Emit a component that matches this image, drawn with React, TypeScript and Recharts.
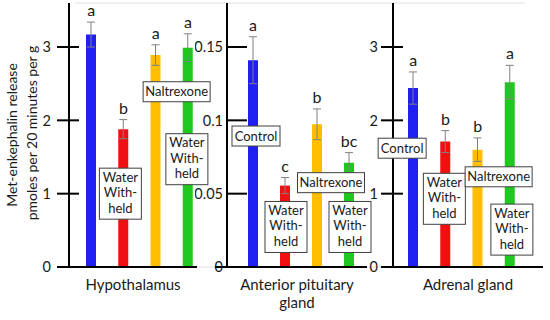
import { Bar, BarChart, CartesianGrid, Cell, ErrorBar, Label, ReferenceDot, XAxis, YAxis } from "recharts";

// treatments, in bar order
const treatments = ["Control", "Water withheld", "Naltrexone", "Water withheld + Naltrexone"];
const barColors = ["#1f1ff2", "#f01010", "#ffbf00", "#1fc81f"];

// pmoles per 20 min per g (mean, SE, significance letter)
const hypoMeans = [3.17, 1.88, 2.89, 2.99];
const hypoErrors = [0.17, 0.13, 0.14, 0.19];
const hypoLetters = ["a", "b", "a", "a"];

const pituitaryMeans = [0.141, 0.0555, 0.0973, 0.071];
const pituitaryErrors = [0.016, 0.0055, 0.0105, 0.007];
const pituitaryLetters = ["a", "c", "b", "bc"];

const adrenalMeans = [2.44, 1.71, 1.6, 2.52];
const adrenalErrors = [0.22, 0.15, 0.16, 0.23];
const adrenalLetters = ["a", "b", "b", "a"];

const wholeTicks = [0, 1, 2, 3];
const smallTicks = [0, 0.05, 0.1, 0.15];
const gridValues = [0.5, 1, 1.5, 2, 2.5, 3, 3.5];

const WATER = ["Water", "With-", "held"];
const NALT = ["Naltrexone"];
const CTRL = ["Control"];

const FONT = "Lato, 'Liberation Sans', sans-serif";

type Note = { at: number; value: number; dx: number; lines: string[] };

const rows = (means: number[], errors: number[]) =>
  treatments.map((t, i) => ({ treatment: t, mean: means[i], err: [errors[i], errors[i]] }));

const panels = [
  {
    tissue: ["Hypothalamus"],
    data: rows(hypoMeans, hypoErrors),
    means: hypoMeans,
    errors: hypoErrors,
    letters: hypoLetters,
    ticks: wholeTicks,
    domain: [0, 3.6],
    left: 0,
    width: 215,
    axisWidth: 69,
    right: 18,
    padding: { left: 6, right: -7 },
    tickKind: "cross",
    labelGap: 18,
    notes: [
      { at: 1, value: 1.0, dx: -3, lines: WATER },
      { at: 2, value: 2.39, dx: 21, lines: NALT },
      { at: 3, value: 1.47, dx: -1, lines: WATER },
    ] as Note[],
  },
  {
    tissue: ["Anterior pituitary", "gland"],
    data: rows(pituitaryMeans, pituitaryErrors),
    means: pituitaryMeans,
    errors: pituitaryErrors,
    letters: pituitaryLetters,
    ticks: smallTicks,
    domain: [0, 0.18],
    left: 195,
    width: 185,
    axisWidth: 32,
    right: 13,
    padding: { left: 10, right: 2 },
    tickKind: "inside",
    labelGap: 4,
    notes: [
      { at: 0, value: 0.0893, dx: 3, lines: CTRL },
      { at: 1, value: 0.0273, dx: 1, lines: WATER },
      { at: 2, value: 0.0575, dx: 14, lines: NALT },
      { at: 3, value: 0.0273, dx: 1, lines: WATER },
    ] as Note[],
  },
  {
    tissue: ["Adrenal gland"],
    data: rows(adrenalMeans, adrenalErrors),
    means: adrenalMeans,
    errors: adrenalErrors,
    letters: adrenalLetters,
    ticks: wholeTicks,
    domain: [0, 3.6],
    left: 365,
    width: 185,
    axisWidth: 28,
    right: 7,
    padding: { left: 4, right: 17 },
    tickKind: "cross",
    labelGap: 15,
    notes: [
      { at: 0, value: 1.62, dx: -11, lines: CTRL },
      { at: 1, value: 0.93, dx: -1, lines: WATER },
      { at: 2, value: 1.23, dx: 21, lines: NALT },
      { at: 3, value: 0.51, dx: 2, lines: WATER },
    ] as Note[],
  },
];

const boxWidth = (lines: string[]) => (lines.length > 1 ? 42 : lines[0] === "Control" ? 48 : 67);

function NoteBox({ cx, cy, note }: { cx: number; cy: number; note: Note }) {
  const w = boxWidth(note.lines);
  const h = note.lines.length > 1 ? 51 : 20;
  const mx = cx + note.dx;
  return (
    <g>
      <rect x={mx - w / 2} y={cy - h / 2} width={w} height={h} fill="#fff" stroke="#404040" strokeWidth={1} />
      {note.lines.map((ln, i) => (
        <text
          key={i}
          x={mx}
          y={note.lines.length > 1 ? cy - 12 + i * 15.5 : cy + 4.5}
          textAnchor="middle"
          fontSize={13}
          fontFamily={FONT}
          fill="#1a1a1a"
        >
          {ln}
        </text>
      ))}
    </g>
  );
}

function YTick(props: any) {
  const { x, y, payload, kind, gap } = props;
  const zero = payload.value === 0;
  let x1 = x - 12;
  let x2 = x + 10;
  if (kind === "inside") {
    x1 = x;
    x2 = x + 20;
  }
  if (zero) {
    x1 = x - 12;
    x2 = x;
  }
  return (
    <g>
      <line x1={x1} x2={x2} y1={y} y2={y} stroke="#000" strokeWidth={2} />
      <text x={x - gap} y={y} dy="0.36em" textAnchor="end" fontSize={14.5} fontFamily={FONT} fill="#1a1a1a">
        {String(payload.value)}
      </text>
    </g>
  );
}

function TissueLabel({ viewBox, lines }: { viewBox: any; lines: string[] }) {
  const cx = viewBox.x + viewBox.width / 2;
  return (
    <g>
      {lines.map((ln, i) => (
        <text key={i} x={cx} y={viewBox.y + 23 + i * 18} textAnchor="middle" fontSize={15} fontFamily={FONT} fill="#1a1a1a">
          {ln}
        </text>
      ))}
    </g>
  );
}

function YTitle({ viewBox }: { viewBox: any }) {
  const cy = viewBox.y + viewBox.height / 2;
  return (
    <g fontSize={14} fontFamily={FONT} fill="#1a1a1a">
      <text transform={`translate(${12} ${cy}) rotate(-90)`} textAnchor="middle" dy="0.35em">
        Met-enkephalin release
      </text>
      <text transform={`translate(${32} ${cy - 2}) rotate(-90)`} textAnchor="middle" dy="0.35em">
        pmoles per 20 minutes per g
      </text>
    </g>
  );
}

export default function App() {
  return (
    <div style={{ position: "absolute", left: 0, top: 0, width: 550, height: 320, background: "#fff" }}>
      <div style={{ position: "absolute", left: 0, top: 0 }}>
        <BarChart width={550} height={320} data={panels[0].data} margin={{ top: 3, right: 25, bottom: 53, left: 75 }}>
          <CartesianGrid vertical={false} stroke="#e0e0e0" />
          <XAxis dataKey="treatment" hide />
          <YAxis hide domain={[0, 3.6]} ticks={gridValues} />
        </BarChart>
      </div>
      {panels.map((p, pi) => (
        <div key={pi} style={{ position: "absolute", left: p.left, top: 0 }}>
          <BarChart width={p.width} height={320} data={p.data} margin={{ top: 3, right: p.right, bottom: 0, left: 0 }}>
            <XAxis
              dataKey="treatment"
              tick={false}
              tickLine={false}
              height={53}
              padding={p.padding}
              axisLine={{ stroke: "#000", strokeWidth: 2 }}
            >
              <Label content={(lp: any) => <TissueLabel viewBox={lp.viewBox} lines={p.tissue} />} />
            </XAxis>
            <YAxis
              width={p.axisWidth}
              domain={p.domain}
              ticks={p.ticks}
              tickLine={false}
              tickSize={0}
              tickMargin={0}
              interval={0}
              axisLine={{ stroke: "#000", strokeWidth: 2 }}
              tick={(tp: any) => <YTick {...tp} kind={p.tickKind} gap={p.labelGap} />}
            >
              {pi === 0 && <Label content={(lp: any) => <YTitle viewBox={lp.viewBox} />} />}
            </YAxis>
            <Bar dataKey="mean" barSize={10} isAnimationActive={false}>
              {p.data.map((_, i) => (
                <Cell key={i} fill={barColors[i]} />
              ))}
              <ErrorBar dataKey="err" width={4} stroke="#808080" strokeWidth={1} isAnimationActive={false} />
            </Bar>
            {p.letters.map((letter, i) => (
              <ReferenceDot
                key={"l" + i}
                x={treatments[i]}
                y={p.means[i] + p.errors[i]}
                r={0}
                ifOverflow="visible"
                shape={(sp: any) => (
                  <text x={sp.cx} y={sp.cy - 6} textAnchor="middle" fontSize={16} fontFamily={FONT} fill="#1a1a1a">
                    {letter}
                  </text>
                )}
              />
            ))}
            {p.notes.map((n, i) => (
              <ReferenceDot
                key={"n" + i}
                x={treatments[n.at]}
                y={n.value}
                r={0}
                ifOverflow="visible"
                shape={(sp: any) => <NoteBox cx={sp.cx} cy={sp.cy} note={n} />}
              />
            ))}
          </BarChart>
        </div>
      ))}
    </div>
  );
}
